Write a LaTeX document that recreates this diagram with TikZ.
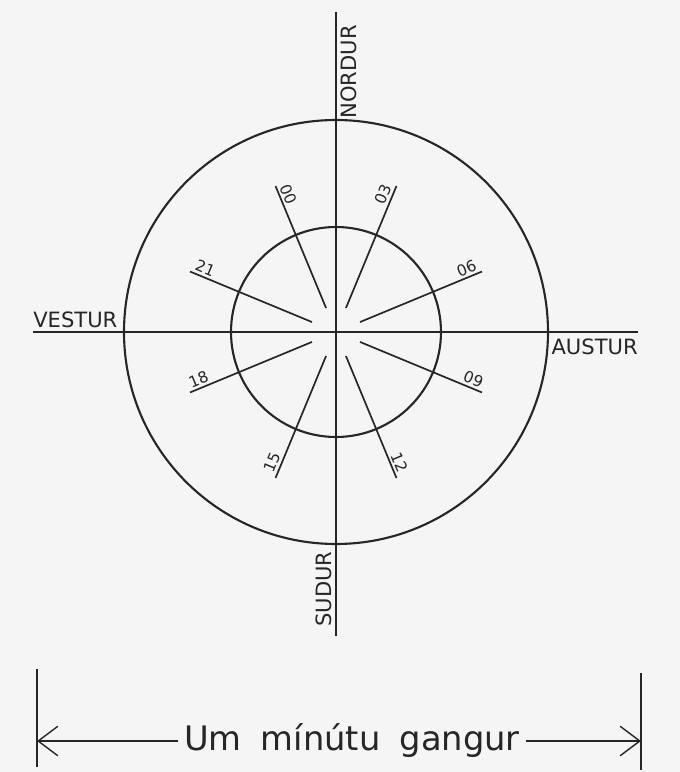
\documentclass[tikz,border=0pt]{standalone}
\usepackage{fontspec}
\setmainfont{DejaVu Sans}
\usetikzlibrary{arrows.meta}

\begin{document}
\begin{tikzpicture}[
  axis/.style={line width=1.6pt, draw=black!85},
  ring/.style={line width=1.5pt, draw=black!85},
  ray/.style={line width=1.2pt, draw=black!85},
  compass/.style={font=\fontsize{15}{17}\selectfont, text=black!85},
  hour/.style={font=\fontsize{11}{13}\selectfont, text=black!85, inner sep=2pt},
  dim/.style={line width=1pt, draw=black!85},
  dimarrow/.style={dim, -{Straight Barb[length=14pt, width=21pt, line width=1pt]}}
]
\fill[black!4] (-8.4,-11.0) rectangle (8.6,8.3);
\useasboundingbox (-8.4,-11.0) rectangle (8.6,8.3);

\coordinate (c) at (0,0);
\coordinate (N) at (0,8.0);
\coordinate (S) at (0,-7.6);
\coordinate (W) at (-7.575,0);
\coordinate (E) at (7.55,0);

\draw[ring] (c) circle (5.3);
\draw[ring] (c) circle (2.625);
\draw[axis] (N) -- (S);
\draw[axis] (W) -- (E);

% compass points
\node[compass, anchor=south west, inner xsep=0pt, inner ysep=2.5pt] (vestur) at (W) {VESTUR};
\node[compass, anchor=north east, inner xsep=0pt, inner ysep=5pt] (austur) at (E) {AUSTUR};
\node[compass, rotate=90, anchor=north east, inner xsep=0pt, inner ysep=3pt] (nordur) at ([yshift=-0.325cm]N) {NORDUR};
\node[compass, rotate=90, anchor=south west, inner xsep=0pt, inner ysep=3pt] (sudur) at ([yshift=0.225cm]S) {SUDUR};

% hour rays
\foreach \lab/\ang/\rot/\anc in {00/112.5/-67.5/south west, 03/67.5/67.5/south east,
    06/22.5/22.5/south east, 09/-22.5/-22.5/south east, 12/-67.5/-67.5/south east,
    15/-112.5/67.5/south west, 18/-157.5/22.5/south west, 21/157.5/-22.5/south west}{
  \draw[ray] (\ang:0.65) -- (\ang:3.95) coordinate (r\lab);
  \node[hour, rotate=\rot, anchor=\anc] (h\lab) at (r\lab) {\lab};
}

% one minute walk
\coordinate (dimL) at (-7.475,-10.225);
\coordinate (dimR) at (7.625,-10.225);
\node[font=\fontsize{24}{28}\selectfont, text=black!85, anchor=base, inner xsep=4pt] (walk) at (0.4,-10.45) {Um\hspace{6pt} mínútu\hspace{6pt} gangur};
\draw[dimarrow] (walk.west |- dimL) -- (dimL);
\draw[dimarrow] (walk.east |- dimR) -- (dimR);
\draw[dim] (dimL) ++(0,1.8) -- ++(0,-2.45);
\draw[dim] (dimR) ++(0,1.7) -- ++(0,-2.425);
\end{tikzpicture}
\end{document}
